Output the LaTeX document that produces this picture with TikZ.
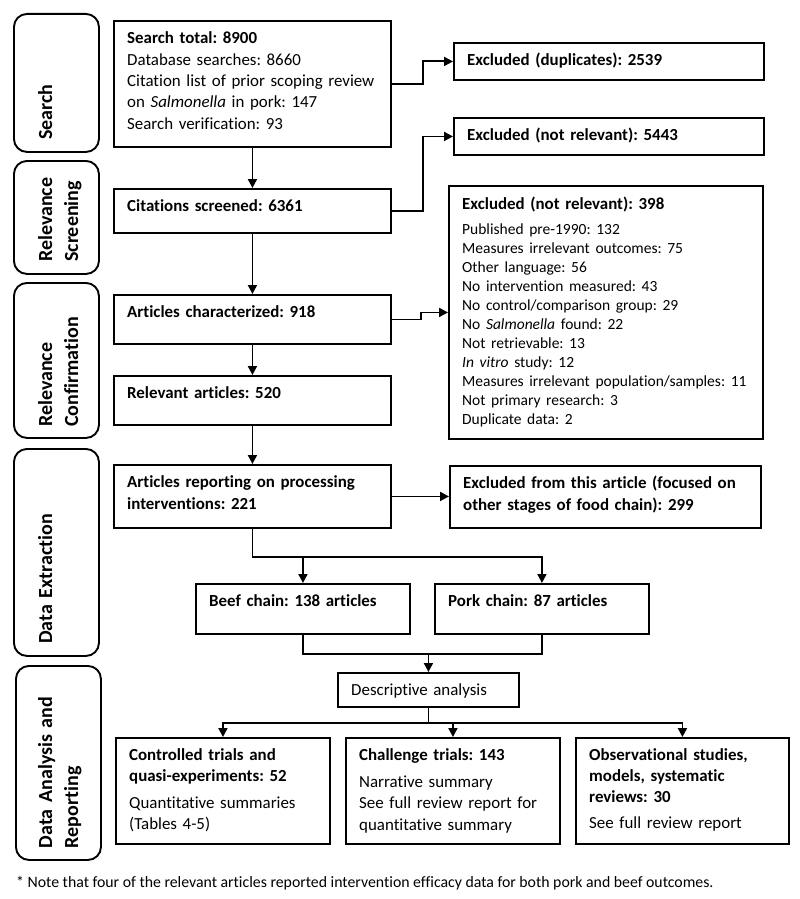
\documentclass[tikz,border=0pt]{standalone}
\usepackage{fontspec}
\setmainfont{Carlito}[Ligatures=NoCommon]
\frenchspacing
\usetikzlibrary{arrows.meta}
\begin{document}
\begin{tikzpicture}[x=1pt,y=-1pt,
  box/.style={draw, line width=1.9pt, rectangle, inner sep=0pt, anchor=north west},
  stagebox/.style={draw, line width=1.9pt, rounded corners=13pt, rectangle, inner sep=0pt, anchor=north west},
  txt/.style={font=\fontsize{16.9}{21.3}\selectfont, inner sep=0pt, anchor=north west, align=left},
  stagetxt/.style={font=\bfseries\fontsize{20}{26}\selectfont, inner sep=0pt, anchor=north west, align=left, rotate=90},
  conn/.style={line width=1.9pt},
  arr/.style={conn, -{Triangle[length=9pt,width=9pt]}},
]
\useasboundingbox (0,0) rectangle (800,899);

% stage labels
\node[stagebox, minimum width=85, minimum height=138] (s1) at (13,13) {};
\node[stagebox, minimum width=85, minimum height=113] (s2) at (13,160) {};
\node[stagebox, minimum width=85, minimum height=155] (s3) at (13,282) {};
\node[stagebox, minimum width=85, minimum height=207] (s4) at (13,448) {};
\node[stagebox, minimum width=85, minimum height=194] (s5) at (15,665) {};
\node[stagetxt, text width=110pt] (s1t) at ([shift={(20.8pt,13pt)}]s1.south west) {\strut Search};
\node[stagetxt, text width=90pt] (s2t) at ([shift={(20.8pt,13pt)}]s2.south west) {\strut Relevance\\ Screening};
\node[stagetxt, text width=130pt] (s3t) at ([shift={(20.8pt,12pt)}]s3.south west) {\strut Relevance\\ Confirmation};
\node[stagetxt, text width=180pt] (s4t) at ([shift={(20.8pt,13pt)}]s4.south west) {\strut Data Extraction};
\node[stagetxt, text width=170pt] (s5t) at ([shift={(18.8pt,12.5pt)}]s5.south west) {\strut Data Analysis and\\ Reporting};

% main column
\node[box, minimum width=277, minimum height=126] (search) at (113,20) {};
\node[box, minimum width=277, minimum height=44] (screen) at (113,188) {};
\node[box, minimum width=277, minimum height=49] (charac) at (113,294) {};
\node[box, minimum width=277, minimum height=49] (relev) at (113,375) {};
\node[box, minimum width=277, minimum height=63] (report) at (113,464) {};
\node[box, minimum width=214, minimum height=50] (beef) at (195,583) {};
\node[box, minimum width=214, minimum height=50] (pork) at (434,583) {};
\node[box, minimum width=181, minimum height=34] (desc) at (337,672) {};
\node[box, minimum width=214, minimum height=106] (ctrl) at (115,737) {};
\node[box, minimum width=214, minimum height=106] (chal) at (345,737) {};
\node[box, minimum width=213, minimum height=106] (obs) at (575,737) {};
% right column
\node[box, minimum width=310, minimum height=37] (dup) at (453,42) {};
\node[box, minimum width=310, minimum height=37] (nr1) at (453,117) {};
\node[box, minimum width=314, minimum height=253] (nr2) at (448,185) {};
\node[box, minimum width=311, minimum height=62] (other) at (449,465) {};

% texts
\node[txt, text width=255pt] (searcht) at ([shift={(14pt,-8.7pt)}]search.north west)
  {\strut\textbf{Search total: 8900}\\ Database searches: 8660\\ Citation list of prior scoping review\\ on \textit{Salmonella} in pork: 147\\ Search verification: 93};
\node[txt, text width=255pt] (screent) at ([shift={(14pt,-8.7pt)}]screen.north west) {\strut\textbf{Citations screened: 6361}};
\node[txt, text width=255pt] (charact) at ([shift={(14pt,-8.7pt)}]charac.north west) {\strut\textbf{Articles characterized: 918}};
\node[txt, text width=255pt] (relevt) at ([shift={(14pt,-8.7pt)}]relev.north west) {\strut\textbf{Relevant articles: 520}};
\node[txt, text width=255pt] (reportt) at ([shift={(14pt,-8.7pt)}]report.north west) {\strut\textbf{Articles reporting on processing}\\ \textbf{interventions: 221}};
\node[txt, text width=195pt] (beeft) at ([shift={(14pt,-8.7pt)}]beef.north west) {\strut\textbf{Beef chain: 138 articles}};
\node[txt, text width=195pt] (porkt) at ([shift={(14pt,-8.7pt)}]pork.north west) {\strut\textbf{Pork chain: 87 articles}};
\node[txt, text width=165pt] (desct) at ([shift={(14pt,-8.2pt)}]desc.north west) {\strut Descriptive analysis};
\node[txt, text width=195pt] (ctrlt) at ([shift={(14pt,-8.2pt)}]ctrl.north west) {\strut\textbf{Controlled trials and}\\ \textbf{quasi-experiments: 52}\\[5.7pt] Quantitative summaries\\ (Tables 4-5)};
\node[txt, text width=195pt] (chalt) at ([shift={(14pt,-8.2pt)}]chal.north west) {\strut\textbf{Challenge trials: 143}\\[6pt] Narrative summary\\ See full review report for\\ quantitative summary};
\node[txt, text width=195pt] (obst) at ([shift={(14pt,-8.2pt)}]obs.north west) {\strut\textbf{Observational studies,}\\ \textbf{models, systematic}\\ \textbf{reviews: 30}\\[4.4pt] See full review report};
\node[txt, text width=290pt] (dupt) at ([shift={(14pt,-8.2pt)}]dup.north west) {\strut\textbf{Excluded (duplicates): 2539}};
\node[txt, text width=290pt] (nr1t) at ([shift={(14pt,-8.2pt)}]nr1.north west) {\strut\textbf{Excluded (not relevant): 5443}};
\node[txt, text width=295pt] (nr2t) at ([shift={(14pt,-9pt)}]nr2.north west)
  {\strut\textbf{Excluded (not relevant): 398}\par\vspace{6pt}%
   \fontsize{15.5}{19}\selectfont
   Published pre-1990: 132\\ Measures irrelevant outcomes: 75\\ Other language: 56\\ No intervention measured: 43\\ No control/comparison group: 29\\ No \textit{Salmonella} found: 22\\ Not retrievable: 13\\ \textit{In vitro} study: 12\\ Measures irrelevant population/samples: 11\\ Not primary research: 3\\ Duplicate data: 2\par};
\node[txt, text width=290pt] (othert) at ([shift={(14pt,-8.7pt)}]other.north west) {\strut\textbf{Excluded from this article (focused on}\\ \textbf{other stages of food chain): 299}};

% footnote
\node[font=\fontsize{15.8}{19}\selectfont, inner sep=0pt, anchor=base west] (note) at (16,887)
  {* Note that four of the relevant articles reported intervention efficacy data for both pork and beef outcomes.};

% connectors
\draw[arr] (search.south) -- (screen.north);
\draw[arr] (screen.south) -- (charac.north);
\draw[arr] (charac.south) -- (relev.north);
\draw[arr] (relev.south) -- (report.north);
\draw[arr] (search.east) -- ++(31,0) |- (dup.west);
\draw[arr] (screen.east) -- ++(31,0) |- (nr1.west);
\draw[arr] (charac.east) -- ++(29,0) |- (nr2.west);
\draw[arr] (report.east) -- (report.east -| other.west);
\path (report.south) ++(0,28) coordinate (j1);
\draw[conn] (report.south) -- (j1);
\draw[arr] (j1) -| (beef.north);
\draw[arr] (j1) -| (pork.north);
\path (beef.south) ++(0,19) coordinate (j2);
\draw[conn] (beef.south) -- (j2) -| (pork.south);
\draw[arr] (j2 -| desc.north) -- (desc.north);
\path (desc.south) ++(0,15) coordinate (j3);
\draw[conn] (desc.south) -- (j3);
\draw[arr] (j3) -| (ctrl.north);
\draw[arr] (j3) -| (chal.north);
\draw[arr] (j3) -| (obs.north);
\end{tikzpicture}
\end{document}
